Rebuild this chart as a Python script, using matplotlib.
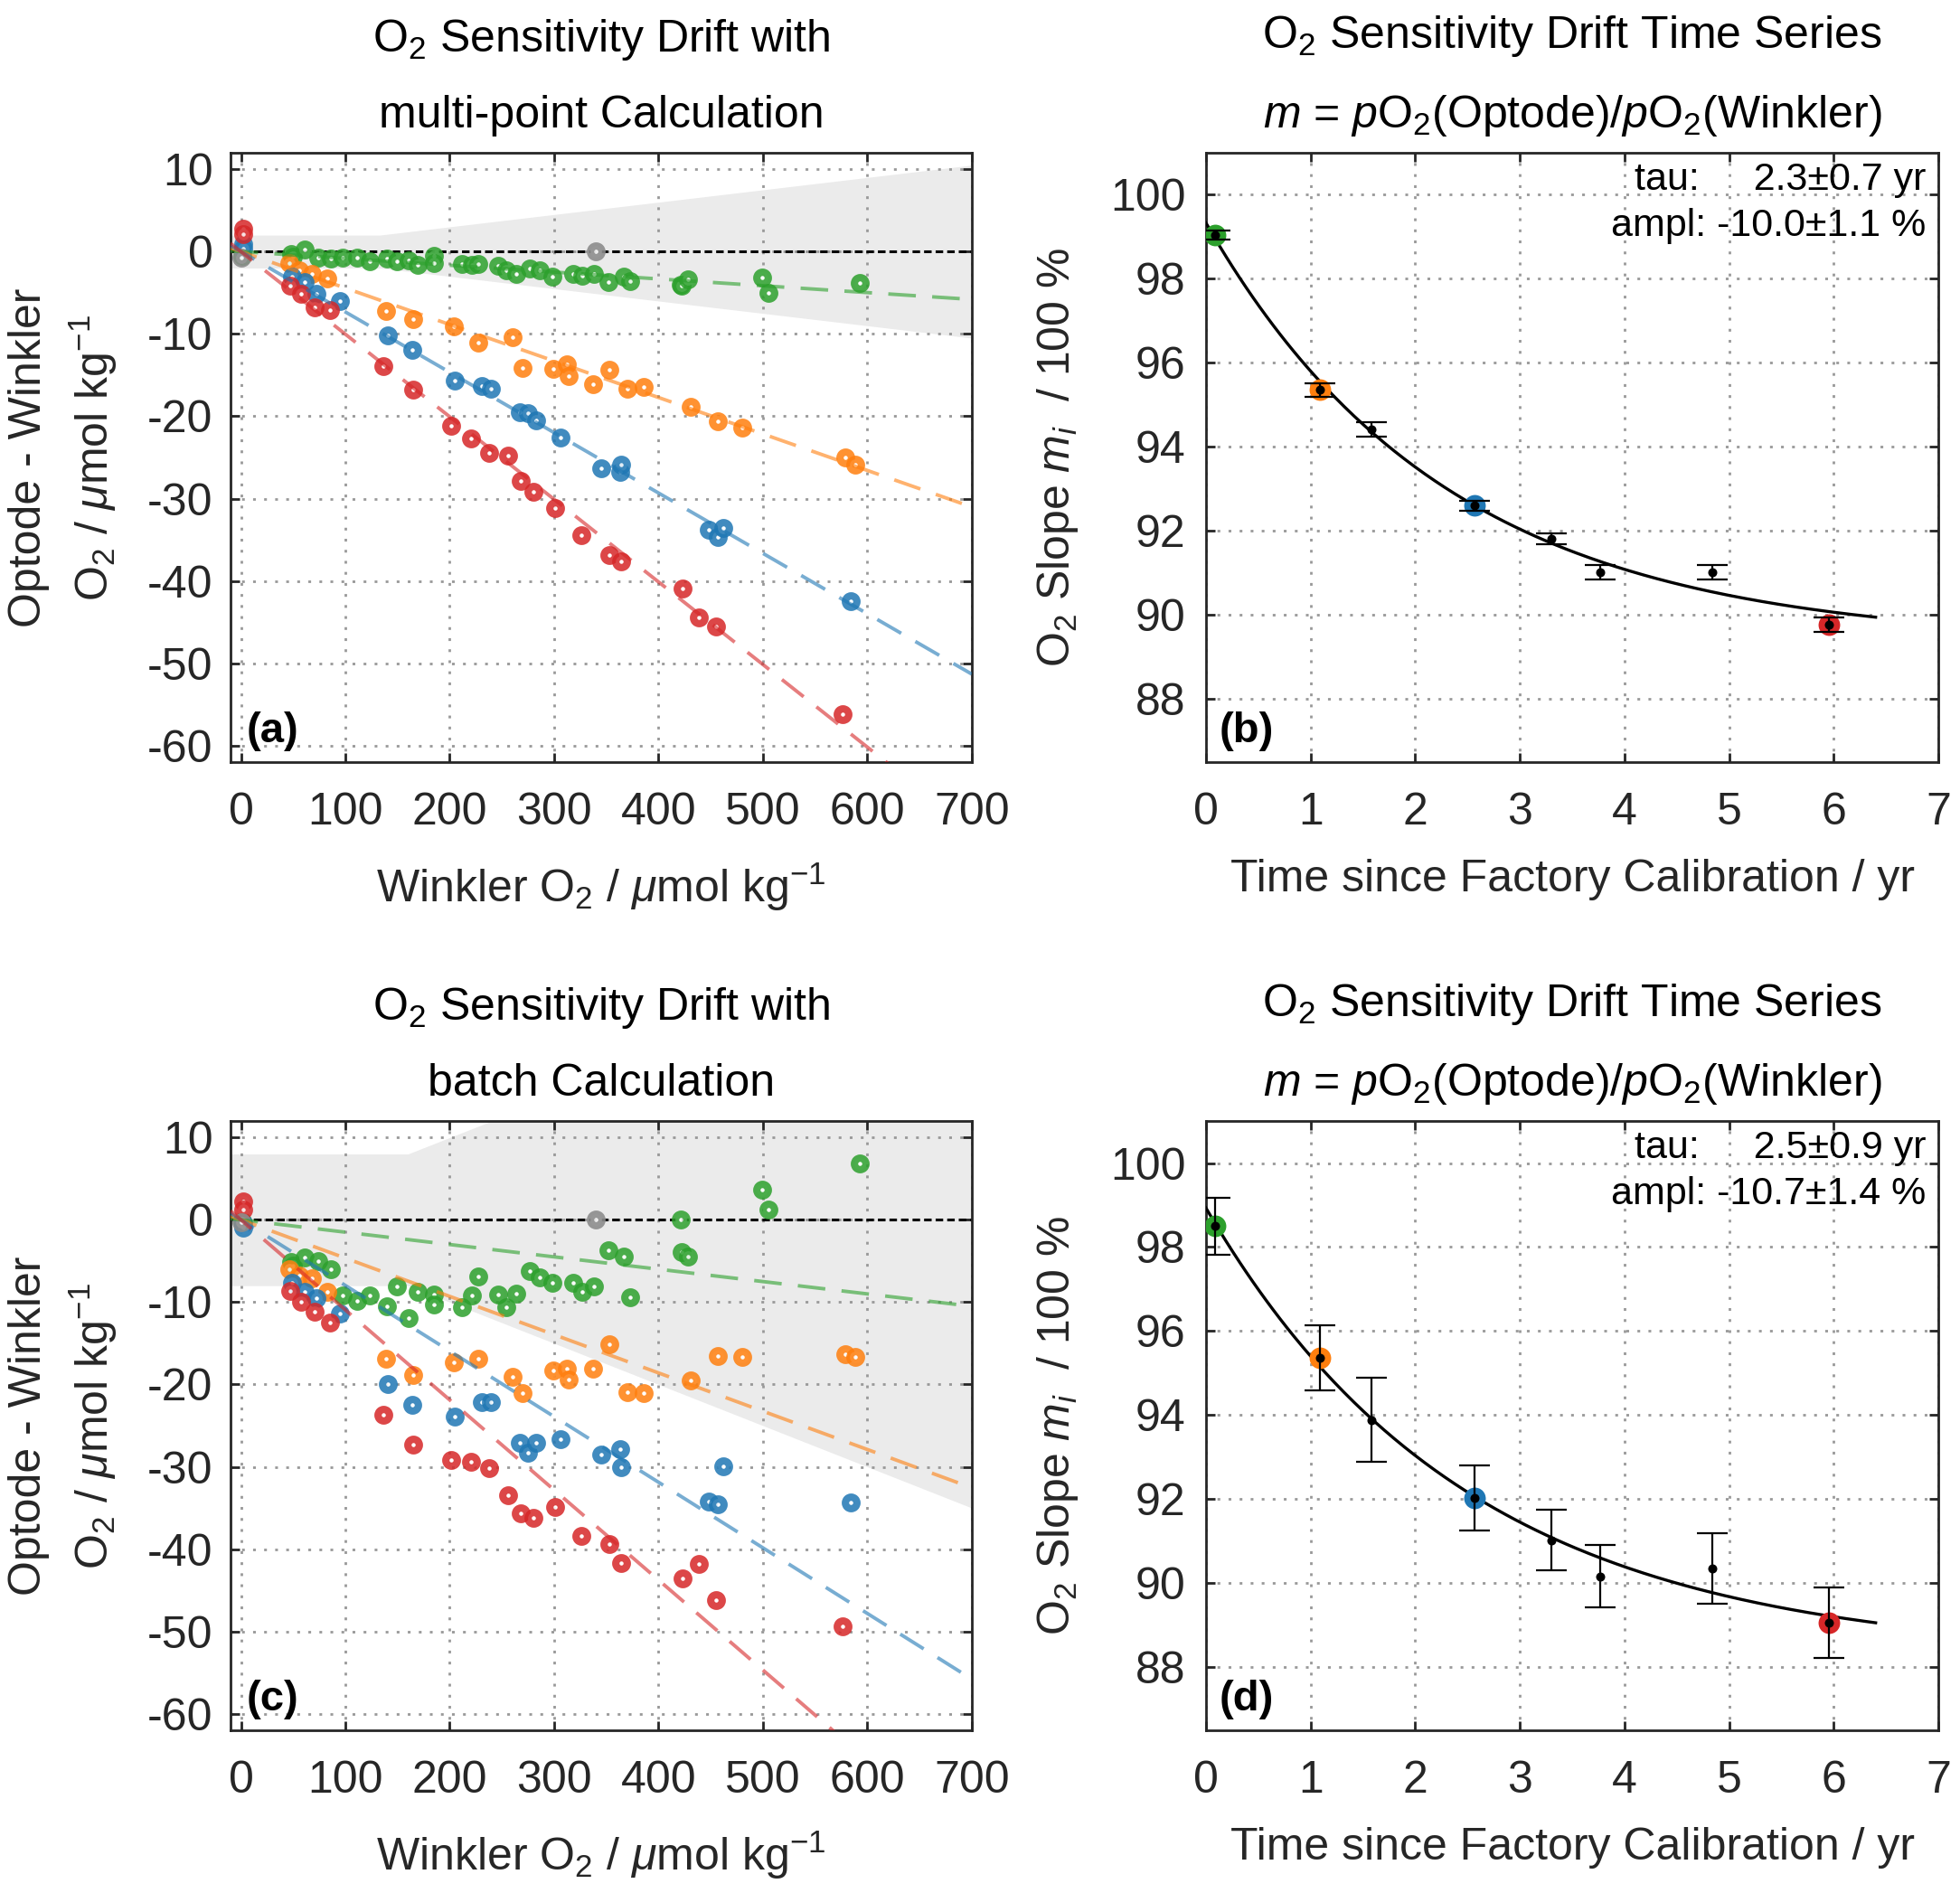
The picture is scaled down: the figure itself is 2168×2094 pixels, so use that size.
import matplotlib
matplotlib.use("Agg")
import matplotlib.pyplot as plt
import numpy as np

plt.rcParams["font.family"] = ["Liberation Sans", "DejaVu Sans"]
plt.rcParams["mathtext.fontset"] = "custom"
plt.rcParams["mathtext.rm"] = "Liberation Sans"
plt.rcParams["mathtext.it"] = "Liberation Sans:italic"
plt.rcParams["mathtext.bf"] = "Liberation Sans:bold"
plt.rcParams["lines.scale_dashes"] = False
plt.rcParams["axes.unicode_minus"] = False

GREEN = "#2ca02c"
ORANGE = "#ff7f0e"
BLUE = "#1f77b4"
RED = "#d62728"
GRAY = "#8c8c8c"
INK = "#262626"

# ---- Optode - Winkler differences, panels (a) multi-point and (c) batch ----
green_x = [1, 48, 50, 61, 74, 86, 97, 111, 123, 140, 149, 161, 169, 185, 185,
           212, 221, 227, 246, 254, 264, 277, 286, 298, 318, 327, 338, 352,
           367, 373, 421, 422, 428, 499, 505, 593]
green_a = [-0.5, -0.3, -0.6, 0.3, -0.7, -0.8, -0.7, -0.7, -1.2, -0.8, -1.2,
           -1.1, -1.6, -0.5, -1.4, -1.5, -1.6, -1.5, -1.7, -2.3, -2.7, -2.1,
           -2.3, -3.0, -2.7, -2.9, -2.7, -3.7, -3.0, -3.6, -4.0, -4.1, -3.4,
           -3.2, -5.0, -3.8]
green_c = [-0.2, -5.1, -5.6, -4.6, -5.0, -6.0, -9.2, -9.8, -9.2, -10.5, -8.1,
           -11.9, -8.8, -9.1, -10.3, -10.6, -9.2, -6.9, -9.1, -10.6, -9.0,
           -6.2, -7.0, -7.6, -7.6, -8.7, -8.1, -3.7, -4.5, -9.4, 0.0, -3.9,
           -4.5, 3.7, 1.2, 6.8]

orange_x = [46, 56, 68, 83, 139, 165, 204, 227, 260, 270, 299, 312, 314, 337,
            353, 370, 386, 431, 457, 480, 579, 588]
orange_a = [-1.4, -2.3, -2.7, -3.3, -7.2, -8.2, -9.1, -11.1, -10.4, -14.1,
            -14.2, -13.7, -15.1, -16.1, -14.4, -16.6, -16.4, -18.8, -20.6,
            -21.4, -25.0, -25.9]
orange_c = [-6.0, -6.8, -7.1, -8.8, -16.9, -18.8, -17.3, -16.9, -19.1, -21.0,
            -18.3, -18.1, -19.4, -18.1, -15.1, -20.9, -21.0, -19.5, -16.5,
            -16.7, -16.3, -16.7]

blue_x = [2, 2, 49, 61, 72, 95, 141, 164, 205, 231, 239, 267, 275, 283, 306,
          345, 363, 364, 448, 457, 462, 584]
blue_a = [0.9, 0.4, -3.0, -3.7, -5.1, -6.0, -10.2, -11.9, -15.7, -16.3, -16.7,
          -19.5, -19.6, -20.5, -22.6, -26.3, -26.8, -25.9, -33.8, -34.7,
          -33.6, -42.5]
blue_c = [-0.4, -0.9, -7.6, -8.7, -9.5, -11.4, -19.9, -22.5, -23.9, -22.1,
          -22.1, -27.1, -28.3, -27.1, -26.6, -28.5, -27.9, -30.1, -34.2,
          -34.6, -29.9, -34.3]

red_x = [2, 2, 47, 58, 71, 85, 136, 165, 201, 220, 238, 256, 268, 280, 301,
         326, 353, 364, 423, 439, 455, 576]
red_a = [2.8, 2.1, -4.1, -5.1, -6.8, -7.1, -13.9, -16.8, -21.2, -22.7, -24.5,
         -24.8, -27.9, -29.2, -31.1, -34.4, -36.9, -37.6, -40.9, -44.4, -45.5,
         -56.2]
red_c = [2.2, 1.2, -8.6, -10.0, -11.2, -12.5, -23.7, -27.3, -29.2, -29.4,
         -30.2, -33.5, -35.6, -36.2, -34.9, -38.4, -39.4, -41.7, -43.6, -41.8,
         -46.2, -49.4]

gray_x = [0, 340]
gray_a = [-0.7, 0.0]
gray_c = [-0.3, 0.0]

# slopes of the dashed fit lines (green, orange, blue, red)
fit_slope_a = [-0.0083, -0.0443, -0.0733, -0.1003]
fit_slope_c = [-0.0150, -0.0465, -0.0797, -0.1094]
fit_x = np.array([-10, 700])

# gray uncertainty band (half width)
band_x_a = [-10, 133, 700]
band_hw_a = [2, 2, 10.5]
band_x_c = [-10, 160, 700]
band_hw_c = [8, 8, 35]

# ---- slope time series, panels (b) and (d) ----
time_yr = [0.09, 1.09, 1.58, 2.57, 3.30, 3.77, 4.84, 5.95]
slope_b = [99.04, 95.36, 94.42, 92.60, 91.82, 91.02, 91.02, 89.77]
err_b = [0.10, 0.16, 0.18, 0.12, 0.13, 0.18, 0.18, 0.18]
slope_d = [98.50, 95.36, 93.88, 92.03, 91.02, 90.16, 90.35, 89.05]
err_d = [0.68, 0.78, 1.00, 0.77, 0.72, 0.74, 0.83, 0.84]
colored_idx = [0, 1, 3, 7]

# exponential fit: offset + ampl * (1 - exp(-t / tau))
fit_b = dict(tau=2.3, tau_err=0.7, ampl=-10.0, ampl_err=1.1, offset=99.33)
fit_d = dict(tau=2.5, tau_err=0.9, ampl=-10.7, ampl_err=1.4, offset=98.93)
fit_t = np.linspace(0, 6.4, 200)

TICK_FS = 18
LABEL_FS = 18
TITLE_FS = 18


def style_axes(ax, xpad=12, ypad=7):
    for spine in ax.spines.values():
        spine.set_linewidth(1.0)
        spine.set_color(INK)
    ax.tick_params(direction="in", length=3.6, width=1.0, top=True, right=True,
                   color=INK, labelcolor=INK, labelsize=TICK_FS)
    ax.tick_params(axis="x", pad=xpad)
    ax.tick_params(axis="y", pad=ypad)
    ax.set_axisbelow(True)
    ax.grid(True, color="#999999", linewidth=1.0, linestyle=(0, (1.1, 3.3)))


def draw_diff_panel(ax, ys, slopes, band_x, band_hw, title, letter):
    hw = np.array(band_hw)
    ax.fill_between(band_x, -hw, hw, color="#ebebeb", lw=0, zorder=0.2)
    ax.axhline(0, color="black", lw=1.1, dashes=(3, 1.6), zorder=2)

    xs = [green_x, orange_x, blue_x, red_x]
    colors = [GREEN, ORANGE, BLUE, RED]
    for x, y, c in zip(xs, ys, colors):
        ax.plot(x, y, "o", ls="none", color=c, mfc="white", mec=c, ms=4.6,
                mew=2.9, alpha=0.85, zorder=3)
    ax.plot(gray_x, ys[4], "o", ls="none", color=GRAY, mfc="white", mec=GRAY,
            ms=4.6, mew=2.9, alpha=0.9, zorder=3)
    for s, c in zip(slopes, colors):
        ax.plot(fit_x, s * fit_x, color=c, lw=1.4, dashes=(11, 6.5),
                alpha=0.6, zorder=4)

    ax.set_xlim(-10, 700)
    ax.set_ylim(-62, 12)
    ax.set_xticks(range(0, 701, 100))
    ax.set_yticks(range(-60, 11, 10))
    style_axes(ax)
    ax.set_xlabel(r"Winkler O$_2$ / $\mu$mol kg$^{-1}$", fontsize=LABEL_FS,
                  color=INK, labelpad=11)
    ax.set_ylabel("Optode - Winkler\n" + r"O$_2$ / $\mu$mol kg$^{-1}$",
                  fontsize=LABEL_FS, color=INK, labelpad=11, linespacing=1.45)
    ax.set_title(title, fontsize=TITLE_FS, pad=10, linespacing=2.0)
    ax.text(0.021, 0.018, letter, transform=ax.transAxes, fontsize=17,
            fontweight="bold", ha="left", va="bottom", zorder=6)


def draw_time_panel(ax, slope, err, fit, letter):
    curve = fit["offset"] + fit["ampl"] * (1 - np.exp(-fit_t / fit["tau"]))
    ax.plot(fit_t, curve, color="black", lw=1.2, zorder=3)
    colors = [GREEN, ORANGE, BLUE, RED]
    for i, c in zip(colored_idx, colors):
        ax.plot(time_yr[i], slope[i], "o", color=c, ms=8.6, mew=0, zorder=4)
    ax.errorbar(time_yr, slope, yerr=err, fmt="o", color="black", ms=2.6,
                elinewidth=0.8, capsize=6, capthick=0.8, zorder=5)

    ax.set_xlim(0, 7)
    ax.set_ylim(86.5, 101)
    ax.set_xticks(range(0, 8))
    ax.set_yticks(range(88, 101, 2))
    style_axes(ax, ypad=8)
    ax.set_xlabel("Time since Factory Calibration / yr", fontsize=LABEL_FS,
                  color=INK, labelpad=10)
    ax.set_ylabel(r"O$_2$ Slope $m_i$  / 100 %", fontsize=LABEL_FS, color=INK,
                  labelpad=12)
    ax.set_title("O$_2$ Sensitivity Drift Time Series\n"
                 r"$m$ = $p$O$_2$(Optode)/$p$O$_2$(Winkler)",
                 fontsize=TITLE_FS, pad=10, linespacing=2.0)
    note = (f"tau:     {fit['tau']:.1f}\u00b1{fit['tau_err']:.1f} yr\n"
            f"ampl: {fit['ampl']:.1f}\u00b1{fit['ampl_err']:.1f} %")
    ax.text(0.983, 0.985, note, transform=ax.transAxes, fontsize=15.5,
            ha="right", va="top", multialignment="right", linespacing=1.35,
            zorder=6)
    ax.text(0.018, 0.018, letter, transform=ax.transAxes, fontsize=17,
            fontweight="bold", ha="left", va="bottom", zorder=6)


fig = plt.figure(figsize=(10.84, 10.47), dpi=200)
ax_a = fig.add_axes([0.1176, 0.5974, 0.3782, 0.3219])
ax_b = fig.add_axes([0.6153, 0.5974, 0.3737, 0.3219])
ax_c = fig.add_axes([0.1176, 0.0860, 0.3782, 0.3218])
ax_d = fig.add_axes([0.6153, 0.0860, 0.3737, 0.3218])

draw_diff_panel(ax_a, [green_a, orange_a, blue_a, red_a, gray_a], fit_slope_a,
                band_x_a, band_hw_a,
                "O$_2$ Sensitivity Drift with\nmulti-point Calculation", "(a)")
draw_diff_panel(ax_c, [green_c, orange_c, blue_c, red_c, gray_c], fit_slope_c,
                band_x_c, band_hw_c,
                "O$_2$ Sensitivity Drift with\nbatch Calculation", "(c)")
draw_time_panel(ax_b, slope_b, err_b, fit_b, "(b)")
draw_time_panel(ax_d, slope_d, err_d, fit_d, "(d)")

fig.savefig("out.png", dpi=200)
